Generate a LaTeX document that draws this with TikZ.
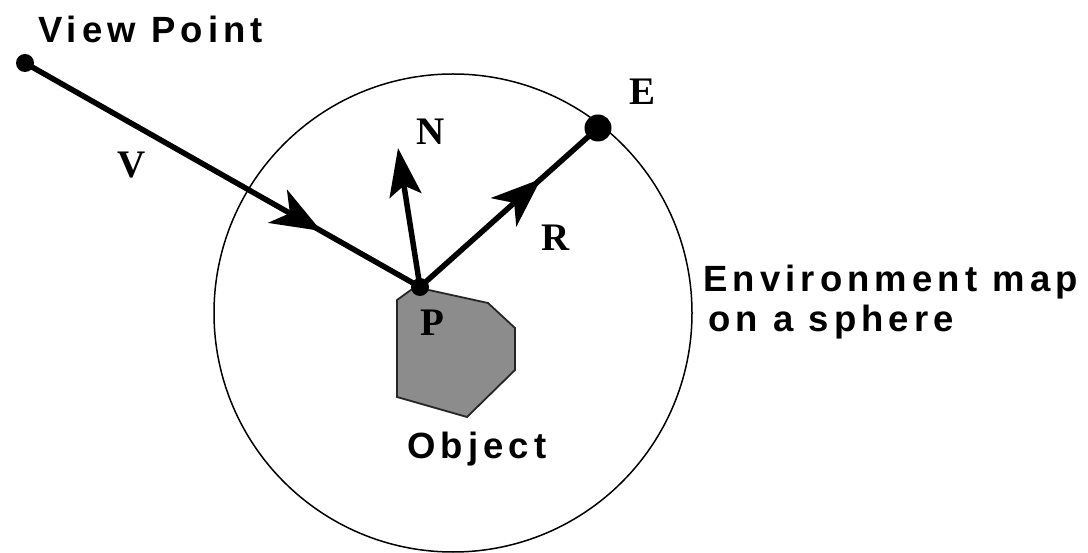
\documentclass[tikz,border=0pt]{standalone}
\usepackage{fontspec}
\setmainfont{Liberation Serif}
\newfontfamily\labfont[LetterSpace=14]{Liberation Sans}
\usetikzlibrary{arrows.meta,decorations.markings}
\tikzset{
  vec/.style={line width=5.5pt, line cap=round},
  midarrow/.style={postaction={decorate},decoration={markings,
     mark=at position #1 with {\arrow{Stealth[length=50pt,width=38pt,inset=14pt]}}}},
  serlab/.style={anchor=base west, inner sep=0pt, font=\fontsize{39}{42}\selectfont\bfseries},
  sanslab/.style={anchor=base west, inner sep=0pt, font=\fontsize{36.5}{40}\selectfont\labfont\bfseries},
  dot/.style={circle, fill=black, inner sep=0pt},
}
\begin{document}
\begin{tikzpicture}[x=1pt,y=-1pt]
\useasboundingbox (0,0) rectangle (1088,553);
% sphere
\draw[line width=1.5pt] (453,313) circle[radius=239];
% object
\draw[line width=1.8pt, fill=black!45, draw=black!85]
  (397,300) -- (415,287) -- (488,303) -- (515,328) -- (515,370) -- (467,417) -- (397,397) -- cycle;
% points
\node[dot, minimum size=18pt] (vp) at (25,63) {};
\node[dot, minimum size=27pt] (E) at (598,128) {};
\coordinate (P) at (420,287);
\coordinate (Ntip) at (398,148);
\fill (P) circle[radius=9];
% vectors
\draw[vec, midarrow=0.75] (vp.center) -- (P);
\draw[vec, midarrow=0.68] (P) -- (E.center);
\draw[vec, -{Stealth[length=48pt,width=32pt,inset=10pt]}, line cap=butt] (P) -- (Ntip);
% labels
\node[sanslab] (tvp) at (38,43) {View Point};
\node[sanslab] (tenv) at (703,292) {Environment map};
\node[sanslab] (tsph) at (708,332) {on a sphere};
\node[sanslab] (tobj) at (407,458) {Object};
\node[serlab] (tV) at (117,178) {V};
\node[serlab] (tN) at (416,145) {N};
\node[serlab] (tR) at (541,251) {R};
\node[serlab] (tE) at (629,105) {E};
\node[serlab] (tP) at (420,336) {P};
\end{tikzpicture}
\end{document}
